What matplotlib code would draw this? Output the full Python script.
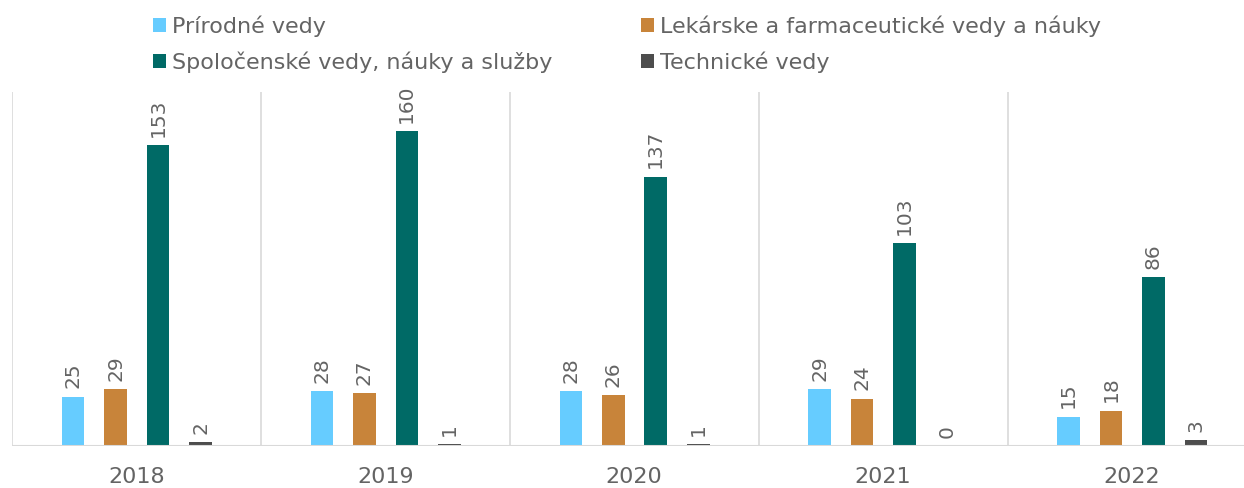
import matplotlib
matplotlib.use('Agg')
import matplotlib.pyplot as plt
import numpy as np

plt.rcParams['font.family'] = ['DejaVu Sans']

years = ['2018', '2019', '2020', '2021', '2022']
series_names = ['Prírodné vedy', 'Lekárske a farmaceutické vedy a náuky',
                'Spoločenské vedy, náuky a služby', 'Technické vedy']
prirodne = [25, 28, 28, 29, 15]
lekarske = [29, 27, 26, 24, 18]
spolocenske = [153, 160, 137, 103, 86]
technicke = [2, 1, 1, 0, 3]
colors = ['#66CCFF', '#C8843A', '#006A66', '#4D4D4D']

text_col = '#646464'
W, H = 1244, 488
fig = plt.figure(figsize=(W / 100, H / 100), dpi=100)
ax = fig.add_axes([12 / W, 1 - 446 / H, (W - 12) / W, (446 - 92) / H])

x = np.arange(len(years))
offsets = [-0.255, -0.084, 0.086, 0.258]
width = 0.09
bars = []
for vals, off, c, name in zip([prirodne, lekarske, spolocenske, technicke], offsets, colors, series_names):
    b = ax.bar(x + off, vals, width, color=c, label=name, zorder=3)
    bars.append(b)
    for xi, v in zip(x + off, vals):
        ax.annotate(str(v), (xi, v), xytext=(0, 6), textcoords='offset points',
                    rotation=90, ha='center', va='bottom', color=text_col, fontsize=14.5)

ax.set_xlim(-0.5, 4.45)
ax.set_ylim(0, 180)
for xs in np.arange(-0.5, 4.5, 1.0):
    ax.axvline(xs, color='#D9D9D9', lw=1.2, zorder=1)
ax.axhline(0, color='#D9D9D9', lw=1.5, zorder=4)
for s in ax.spines.values():
    s.set_visible(False)
ax.set_yticks([])
ax.set_xticks(x)
ax.set_xticklabels(years, fontsize=16, color=text_col)
ax.tick_params(axis='x', length=0, pad=15)

handles = [bars[0], bars[2], bars[1], bars[3]]
labels = [series_names[0], series_names[2], series_names[1], series_names[3]]
fig.legend(handles, labels, ncol=2, loc='upper left', bbox_to_anchor=(133 / W, 1.009),
           frameon=False, fontsize=16, labelcolor=text_col, handlelength=0.6,
           handleheight=0.6, handletextpad=0.25, columnspacing=4.0, labelspacing=0.63)

fig.savefig('out.png', dpi=100)
